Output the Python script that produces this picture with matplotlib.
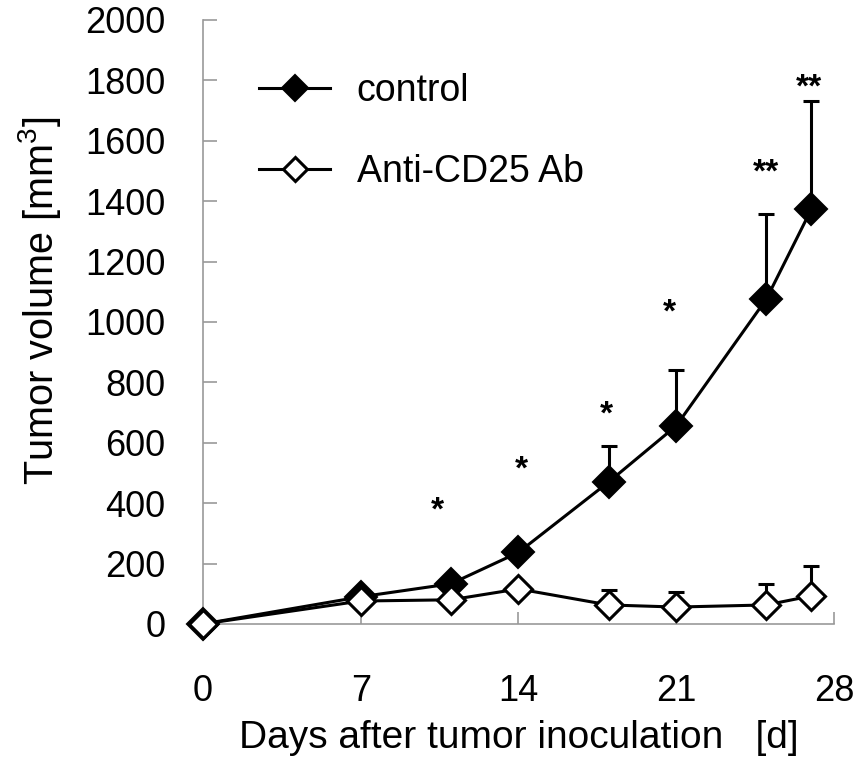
import numpy as np
import matplotlib
matplotlib.use("Agg")
import matplotlib.pyplot as plt

plt.rcParams['font.family'] = ['Liberation Sans', 'DejaVu Sans']
plt.rcParams['mathtext.fontset'] = 'custom'
plt.rcParams['mathtext.rm'] = 'Liberation Sans'
plt.rcParams['mathtext.it'] = 'Liberation Sans'

# data
days = [0, 7, 11, 14, 18, 21, 25, 27]
control = [0, 90, 133, 237, 470, 656, 1076, 1374]
control_err = [0, 0, 0, 0, 119, 185, 282, 358]
anti = [0, 76, 80, 116, 63, 56, 63, 93]
anti_err = [0, 0, 0, 0, 50, 50, 69, 99]

star_x = [10.4, 14.15, 17.9, 20.7, 25.0, 26.9]
star_y = [375, 510, 692, 1030, 1494, 1775]
star_txt = ['*', '*', '*', '*', '**', '**']

xticks = [0, 7, 14, 21, 28]
yticks = list(range(0, 2001, 200))

fig = plt.figure(figsize=(8.62, 7.71), dpi=100)
ax = fig.add_axes([0.2355, 0.1907, 0.732, 0.7834])

lw = 2.2
ax.errorbar(days, control, yerr=[np.zeros(len(days)), control_err], fmt='none',
            ecolor='black', elinewidth=lw, capsize=6, capthick=lw, zorder=2)
ax.plot(days, control, color='black', lw=lw, marker='D', ms=16,
        mfc='black', mec='black', mew=1.5, label='control', zorder=3, clip_on=False)
ax.errorbar(days, anti, yerr=[np.zeros(len(days)), anti_err], fmt='none',
            ecolor='black', elinewidth=lw, capsize=6, capthick=lw, zorder=4)
ax.plot(days, anti, color='black', lw=lw, marker='D', ms=14.5,
        mfc='white', mec='black', mew=2.2, label='Anti-CD25 Ab', zorder=5, clip_on=False)

for x, y, t in zip(star_x, star_y, star_txt):
    ax.text(x, y, t, ha='center', va='center', fontsize=24, fontweight='bold')

ax.set_xlim(0, 28)
ax.set_ylim(0, 2000)
ax.set_xticks(xticks)
ax.set_yticks(yticks)

for s in ['top', 'right']:
    ax.spines[s].set_visible(False)
for s in ['left', 'bottom']:
    ax.spines[s].set_color('#999999')
    ax.spines[s].set_linewidth(1.2)

ax.tick_params(axis='y', direction='in', length=10, width=1.2, color='#999999',
               labelsize=26, pad=27)
ax.tick_params(axis='x', direction='in', length=9, width=1.2, color='#999999',
               labelsize=26, pad=36)

ax.set_xlabel('Days after tumor inoculation   [d]', fontsize=28, labelpad=8)
ax.set_ylabel('Tumor volume [mm$^3$]', fontsize=28.5)
ax.yaxis.set_label_coords(-0.222, 0.535)

ax.legend(loc='upper left', bbox_to_anchor=(0.089, 0.912), frameon=False,
          fontsize=27, handlelength=1.9, handletextpad=0.7, labelspacing=1.2,
          borderpad=0, borderaxespad=0, numpoints=1, markerscale=0.85)

fig.savefig('out.png', dpi=100)
